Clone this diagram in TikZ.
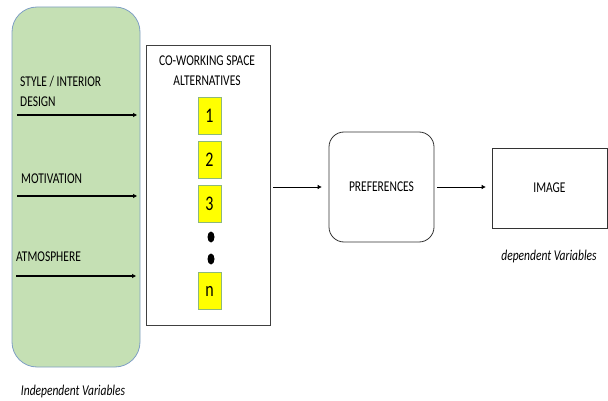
\documentclass[tikz,border=0pt]{standalone}
\usepackage{fontspec}
\usepackage{graphicx}
\setmainfont{Carlito}
\usetikzlibrary{arrows.meta,shapes.geometric}
\definecolor{greenfill}{HTML}{C5E0B4}
\definecolor{greenedge}{HTML}{7F9FC4}
\definecolor{yel}{HTML}{FFFF00}
\definecolor{yeledge}{HTML}{8DB87A}
\newcommand\tx[1]{\scalebox{1}[1.3]{#1}}
\begin{document}
\begin{tikzpicture}[x=1pt,y=-1pt,
  lbl/.style={font=\fontsize{11.5}{20}\selectfont, inner sep=0pt},
  itl/.style={font=\fontsize{11.5}{14}\itshape\selectfont, inner sep=0pt},
  arr/.style={-{Triangle[length=4pt,width=4pt]}, line width=1.1pt},
  thinarr/.style={-{Triangle[length=4pt,width=4pt]}, line width=0.8pt},
  ybox/.style={draw=yeledge, fill=yel, line width=0.6pt, minimum width=23pt, minimum height=37pt, inner sep=0pt, font=\fontsize{16}{18}\selectfont},
  dotn/.style={ellipse, fill=black, inner sep=0pt, minimum width=7pt, minimum height=11pt}
]
\useasboundingbox (0,0) rectangle (608,401);
% green box
\draw[fill=greenfill, draw=greenedge, line width=0.8pt, rounded corners=25pt] (12,7) rectangle (140,367);
% arrows and labels in green box
\node[lbl, anchor=west, align=left] (sty) at (20,91) {\tx{STYLE / INTERIOR}\\\tx{DESIGN}};
\coordinate (s0) at (17,115); \coordinate (s1) at (137,115);
\draw[arr] (s0) -- (s1);
\node[lbl, anchor=west] (mot) at (21,179) {\tx{MOTIVATION}};
\coordinate (m0) at (17,196); \coordinate (m1) at (137,196);
\draw[arr] (m0) -- (m1);
\node[lbl, anchor=west] (atm) at (16,257) {\tx{ATMOSPHERE}};
\coordinate (a0) at (16,276); \coordinate (a1) at (136,276);
\draw[arr] (a0) -- (a1);
\node[itl] (indep) at (73,392) {\tx{Independent Variables}};
% alternatives box
\node[draw=black!75, line width=0.8pt, minimum width=124pt, minimum height=280pt, inner sep=0pt] (alt) at (208,185) {};
\node[lbl, align=center] (altt) at (207,70.5) {\tx{CO-WORKING SPACE}\\\tx{ALTERNATIVES}};
\node[ybox] (b1) at (209.5,115.5) {\tx{1}};
\node[ybox] (b2) at (209.5,159.5) {\tx{2}};
\node[ybox] (b3) at (209.5,204) {\tx{3}};
\node[dotn] (d1) at (211,237) {};
\node[dotn] (d2) at (211,259) {};
\node[ybox] (bn) at (209.5,291) {\tx{n}};
% preferences
\node[draw=black!80, line width=0.8pt, rounded corners=15pt, minimum width=105pt, minimum height=110pt, inner sep=0pt, lbl] (pref) at (381.5,187) {\tx{PREFERENCES}};
% image
\node[draw=black!80, line width=0.8pt, minimum width=115pt, minimum height=80pt, inner sep=0pt, lbl] (img) at (549.5,188) {\tx{IMAGE}};
\node[itl] (dep) at (549,257) {\tx{dependent Variables}};
% connectors
\draw[thinarr] ([xshift=3pt]alt.east |- pref.west) -- ([xshift=-7pt]pref.west);
\draw[thinarr] ([xshift=3pt]pref.east) -- ([xshift=-6pt]img.west |- pref.east);
\end{tikzpicture}
\end{document}
